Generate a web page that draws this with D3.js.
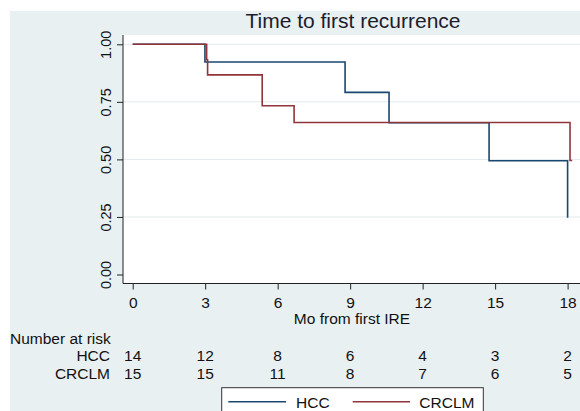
<!DOCTYPE html>
<html lang="en">
<head>
    <meta charset="UTF-8">
    <title>Time to first recurrence</title>
    <script src="https://d3js.org/d3.v7.min.js"></script>
    <style>
        body { margin: 0; background: #fff; font-family: "Liberation Sans", Arial, sans-serif; }
        svg { display: block; }
    </style>
</head>
<body>
    <svg width="580" height="411"></svg>
    <script>
        // Kaplan-Meier steps
        const groups = ["HCC", "CRCLM"];
        const hccTimes = [0, 2.99, 8.79, 10.61, 14.75, 18.0];
        const hccSurv = [1, 0.923, 0.791, 0.659, 0.494, 0.247];
        const crclmTimes = [0, 3.06, 3.10, 5.36, 6.68, 18.1, 18.19];
        const crclmSurv = [1, 0.933, 0.867, 0.733, 0.66, 0.495, 0.495];

        const xTicks = [0, 3, 6, 9, 12, 15, 18];
        const yTicks = [0, 0.25, 0.5, 0.75, 1];
        const hccRisk = [14, 12, 8, 6, 4, 3, 2];
        const crclmRisk = [15, 15, 11, 8, 7, 6, 5];

        const colors = { HCC: "#1a476f", CRCLM: "#90353b" };

        const svg = d3.select("svg");
        const plot = { left: 123, right: 580, top: 35, bottom: 283.5 };

        const x = d3.scaleLinear().domain([0, 18]).range([132.7, 567.6]);
        const y = d3.scaleLinear().domain([0, 1]).range([274.5, 44.3]);

        // graph region + plot region
        svg.append("rect").attr("x", 10).attr("y", 11).attr("width", 570).attr("height", 400).attr("fill", "#e9f0f2");
        svg.append("rect").attr("x", plot.left).attr("y", plot.top)
            .attr("width", plot.right - plot.left).attr("height", plot.bottom - plot.top).attr("fill", "#fff");

        // gridlines
        svg.selectAll(".grid").data(yTicks.filter(d => d > 0)).enter().append("line")
            .attr("x1", plot.left).attr("x2", plot.right)
            .attr("y1", d => y(d)).attr("y2", d => y(d))
            .attr("stroke", "#e3ebee").attr("stroke-width", 1);

        // title
        svg.append("text").attr("x", 353).attr("y", 27.5).attr("text-anchor", "middle")
            .attr("font-size", 21).attr("fill", "#1c1c2c").text("Time to first recurrence");

        // axes
        const yAxis = d3.axisLeft(y).tickValues(yTicks).tickSize(6).tickFormat(d3.format(".2f"));
        const gy = svg.append("g").attr("transform", `translate(${plot.left},0)`).call(yAxis);
        gy.select(".domain").attr("d", `M0,${plot.top}V${plot.bottom}`);
        gy.selectAll(".tick text")
            .attr("x", 0).attr("y", 0).attr("dy", 0)
            .attr("transform", "translate(-12,0) rotate(-90)")
            .attr("text-anchor", "middle")
            .attr("font-size", 14.5).attr("font-family", "Liberation Sans, Arial, sans-serif").attr("fill", "#111");

        const xAxis = d3.axisBottom(x).tickValues(xTicks).tickSize(6).tickFormat(d3.format("d"));
        const gx = svg.append("g").attr("transform", `translate(0,${plot.bottom})`).call(xAxis);
        gx.select(".domain").attr("d", `M${plot.left},0H${plot.right}`);
        gx.selectAll(".tick text").attr("y", 24.5).attr("dy", 0)
            .attr("font-size", 15.5).attr("font-family", "Liberation Sans, Arial, sans-serif").attr("fill", "#111");
        svg.selectAll(".domain, .tick line").attr("stroke", "#222");

        svg.append("text").attr("x", 352).attr("y", 323.5).attr("text-anchor", "middle")
            .attr("font-size", 15.5).attr("fill", "#111").text("Mo from first IRE");

        // survival curves
        const step = d3.line().x(d => x(d[0])).y(d => y(d[1])).curve(d3.curveStepAfter);
        const series = [
            { name: "HCC", pts: d3.zip(hccTimes, hccSurv) },
            { name: "CRCLM", pts: d3.zip(crclmTimes, crclmSurv) }
        ];
        svg.selectAll(".km").data(series).enter().append("path")
            .attr("d", d => step(d.pts))
            .attr("fill", "none").attr("stroke", d => colors[d.name]).attr("stroke-width", 1.6);

        // number at risk table
        svg.append("text").attr("x", 10).attr("y", 343.5).attr("font-size", 15.5).attr("fill", "#111").text("Number at risk");
        const riskRows = [{ name: groups[0], vals: hccRisk, yy: 360.5 }, { name: groups[1], vals: crclmRisk, yy: 378.5 }];
        riskRows.forEach(r => {
            svg.append("text").attr("x", 110).attr("y", r.yy).attr("text-anchor", "end")
                .attr("font-size", 15.5).attr("fill", "#111").text(r.name);
            svg.selectAll(null).data(r.vals).enter().append("text")
                .attr("x", (d, i) => x(xTicks[i])).attr("y", r.yy).attr("text-anchor", "middle")
                .attr("font-size", 15.5).attr("fill", "#111").text(d => d);
        });

        // legend
        const lg = svg.append("g");
        lg.append("rect").attr("x", 221.7).attr("y", 387.7).attr("width", 261.6).attr("height", 40)
            .attr("fill", "#fff").attr("stroke", "#333").attr("stroke-width", 1);
        const legendItems = [
            { name: "HCC", x1: 228.3, x2: 286, tx: 296 },
            { name: "CRCLM", x1: 352.7, x2: 410, tx: 419.3 }
        ];
        legendItems.forEach(l => {
            lg.append("line").attr("x1", l.x1).attr("x2", l.x2).attr("y1", 401.7).attr("y2", 401.7)
                .attr("stroke", colors[l.name]).attr("stroke-width", 1.6);
            lg.append("text").attr("x", l.tx).attr("y", 407.5).attr("font-size", 15.5).attr("fill", "#111").text(l.name);
        });
    </script>
</body>
</html>
